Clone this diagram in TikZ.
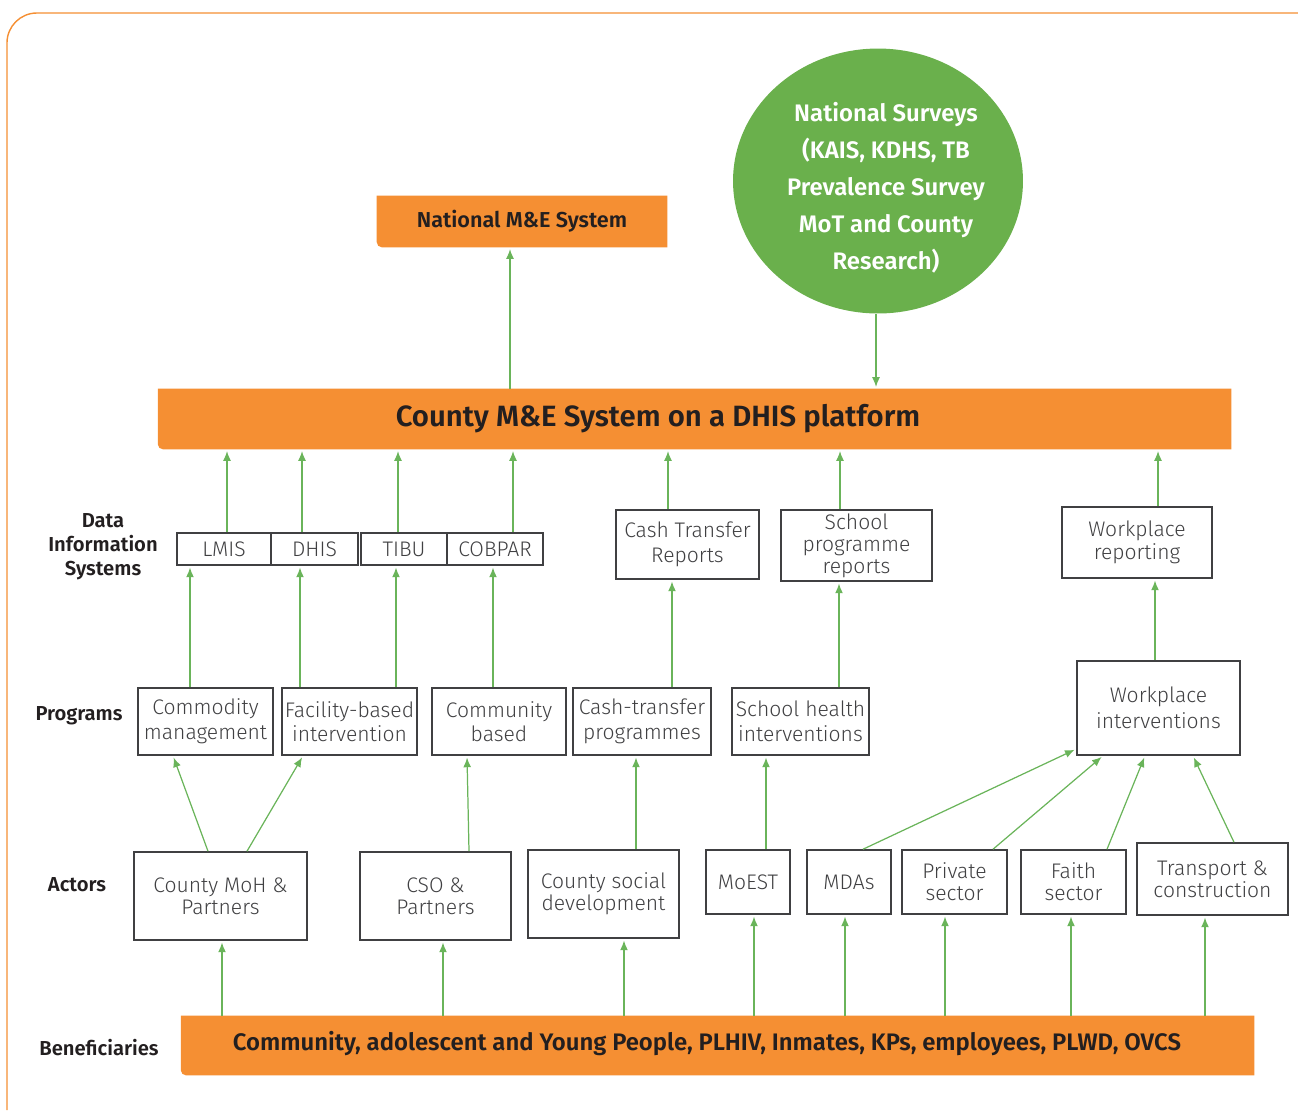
\documentclass[tikz,border=0pt]{standalone}
\usepackage{fontspec}
\setmainfont{Fira Sans}[UprightFont={* Light}, BoldFont={* SemiBold}]
\usetikzlibrary{arrows.meta,backgrounds,shapes.geometric}

\definecolor{barorange}{RGB}{245,143,51}
\definecolor{flowgreen}{RGB}{106,180,90}
\definecolor{surveygreen}{RGB}{106,176,76}
\definecolor{boxgray}{RGB}{64,64,66}
\definecolor{labeldark}{RGB}{35,31,32}

% orange bar behind a node, only the lower left corner rounded
\newcommand{\barback}[1]{%
  \fill[barorange] (#1.north west) -- (#1.north east) -- (#1.south east)
    -- ([xshift=3pt]#1.south west) arc[start angle=270, end angle=180, radius=3pt] -- cycle;}

\tikzset{
  box/.style={draw=boxgray, line width=0.9pt, fill=white, text=boxgray, align=center,
    inner sep=1pt, font=\fontsize{12}{14}\selectfont},
  tightbox/.style={box, font=\fontsize{12}{12.5}\selectfont},
  bar/.style={inner sep=0pt, text=labeldark},
  bartext/.style={text=labeldark, inner sep=0pt},
  rowlabel/.style={text=labeldark, align=center, font=\bfseries\fontsize{11.5}{13.6}\selectfont},
  survey/.style={ellipse, fill=surveygreen, inner sep=0pt},
  surveytext/.style={text=white, align=center, inner sep=0pt, font=\bfseries\fontsize{13.6}{21}\selectfont},
  flow/.style={draw=flowgreen, line width=0.7pt, shorten >=1pt, -{Latex[length=5.5pt,width=4.5pt]}},
}

\begin{document}
\begin{tikzpicture}[x=0.02cm, y=-0.02cm]
    \useasboundingbox (0,0) rectangle (1298,1110);
    \draw[barorange, line width=0.8pt, rounded corners=17pt] (7,1110) -- (7,13) -- (1298,13);

    % top
    \node[bar, minimum width=5.8cm, minimum height=1.02cm, font=\bfseries\fontsize{12.3}{14}\selectfont] (national) at (522,221.5) {National M\&E System};
    \node[survey, minimum width=5.8cm, minimum height=5.3cm] (survey) at (878,181) {};
    \node[surveytext] (surveylabel) at (886,188) {National Surveys\\(KAIS, KDHS, TB\\Prevalence Survey\\MoT and County\\Research)};
    \node[bar, minimum width=21.46cm, minimum height=1.2cm] (county) at (694.5,419) {};
    \node[bartext, font=\bfseries\fontsize{16.7}{19}\selectfont] (countytext) at (658,419) {County M\&E System on a DHIS platform};

    % row labels
    \node[rowlabel] (dislabel) at (103,547) {Data\\Information\\Systems};
    \node[rowlabel] (proglabel) at (79,716) {Programs};
    \node[rowlabel] (actlabel) at (77,885) {Actors};
    \node[rowlabel] (benlabel) at (99,1048) {Beneficiaries};

    % data information systems
    \node[box, minimum width=1.88cm, minimum height=0.64cm] (lmis) at (224,549) {LMIS};
    \node[box, minimum width=1.74cm, minimum height=0.64cm] (dhis) at (314.5,549) {DHIS};
    \node[box, minimum width=1.72cm, minimum height=0.64cm] (tibu) at (404,549) {TIBU};
    \node[box, minimum width=1.92cm, minimum height=0.64cm] (cobpar) at (495,549) {COBPAR};
    \node[box, minimum width=2.86cm, minimum height=1.38cm] (ctreports) at (687.5,544.5) {Cash Transfer\\Reports};
    \node[tightbox, minimum width=3.02cm, minimum height=1.42cm] (spreports) at (856.5,545.5) {School\\programme\\reports};
    \node[box, minimum width=3.0cm, minimum height=1.42cm, font=\fontsize{12}{13}\selectfont] (wpreports) at (1137,542.5) {Workplace\\reporting};

    % programs
    \node[box, minimum width=2.7cm, minimum height=1.34cm] (commodity) at (205.5,721.5) {Commodity\\management};
    \node[box, minimum width=2.7cm, minimum height=1.34cm] (facility) at (349.5,721.5) {Facility-based\\intervention};
    \node[box, minimum width=2.68cm, minimum height=1.34cm] (community) at (499,721.5) {Community\\based};
    \node[box, minimum width=2.76cm, minimum height=1.34cm] (cashprog) at (642,721.5) {Cash-transfer\\programmes};
    \node[box, minimum width=2.74cm, minimum height=1.34cm] (schoolhealth) at (800.5,721.5) {School health\\interventions};
    \node[box, minimum width=3.26cm, minimum height=1.88cm, font=\fontsize{12}{14.7}\selectfont] (wpint) at (1158.5,708) {Workplace\\interventions};

    % actors
    \node[tightbox, minimum width=3.46cm, minimum height=1.76cm] (moh) at (220.5,896) {County MoH \&\\Partners};
    \node[tightbox, minimum width=3.02cm, minimum height=1.76cm] (cso) at (435.5,896) {CSO \&\\Partners};
    \node[tightbox, minimum width=3.02cm, minimum height=1.76cm] (socdev) at (603.5,894) {County social\\development};
    \node[tightbox, minimum width=1.68cm, minimum height=1.28cm] (moest) at (748,882) {MoEST};
    \node[tightbox, minimum width=1.68cm, minimum height=1.28cm] (mdas) at (849,882) {MDAs};
    \node[tightbox, minimum width=2.1cm, minimum height=1.28cm] (private) at (954.5,882) {Private\\sector};
    \node[tightbox, minimum width=2.1cm, minimum height=1.28cm] (faith) at (1073.5,882) {Faith\\sector};
    \node[tightbox, minimum width=3.02cm, minimum height=1.44cm] (transport) at (1212.5,879) {Transport \&\\construction};

    % beneficiaries
    \node[bar, minimum width=21.46cm, minimum height=1.18cm] (benef) at (717.5,1045.5) {};
    \node[bartext, font=\bfseries\fontsize{13.6}{16}\selectfont] (beneftext) at (707,1044) {Community, adolescent and Young People, PLHIV, Inmates, KPs, employees, PLWD, OVCS};

    \begin{pgfonlayer}{background}
        \barback{national}
        \barback{county}
        \barback{benef}
    \end{pgfonlayer}

    % up to the national level
    \draw[flow] (county.north -| 510,0) -- (national.south -| 510,0);
    \draw[flow] (survey.south -| 876,0) -- (county.north -| 876,0);

    % data systems to county
    \draw[flow] (lmis.north -| 227,0) -- (county.south -| 227,0);
    \draw[flow] (dhis.north -| 302,0) -- (county.south -| 302,0);
    \draw[flow] (tibu.north -| 398,0) -- (county.south -| 398,0);
    \draw[flow] (cobpar.north -| 513,0) -- (county.south -| 513,0);
    \draw[flow] (ctreports.north -| 668,0) -- (county.south -| 668,0);
    \draw[flow] (spreports.north -| 840,0) -- (county.south -| 840,0);
    \draw[flow] (wpreports.north -| 1158,0) -- (county.south -| 1158,0);

    % programs to data systems
    \draw[flow] (commodity.north -| 190,0) -- (lmis.south -| 190,0);
    \draw[flow] (facility.north -| 300,0) -- (dhis.south -| 300,0);
    \draw[flow] (facility.north -| 396,0) -- (tibu.south -| 396,0);
    \draw[flow] (community.north -| 493,0) -- (cobpar.south -| 493,0);
    \draw[flow] (cashprog.north -| 672,0) -- (ctreports.south -| 672,0);
    \draw[flow] (schoolhealth.north -| 839,0) -- (spreports.south -| 839,0);
    \draw[flow] (wpint.north -| 1155,0) -- (wpreports.south -| 1155,0);

    % actors to programs
    \draw[flow] (moh.north -| 208,0) -- (commodity.south -| 173,0);
    \draw[flow] (moh.north -| 247,0) -- (facility.south -| 303,0);
    \draw[flow] (cso.north -| 469,0) -- (community.south -| 467,0);
    \draw[flow] (socdev.north -| 636,0) -- (cashprog.south -| 636,0);
    \draw[flow] (moest.north -| 766,0) -- (schoolhealth.south -| 766,0);
    \draw[flow] (mdas.north -| 863,0) -- (wpint.west |- 0,749);
    \draw[flow] (private.north -| 993,0) -- (wpint.south -| 1103,0);
    \draw[flow] (faith.north -| 1107,0) -- (wpint.south -| 1145,0);
    \draw[flow] (transport.north -| 1234,0) -- (wpint.south -| 1193,0);

    % beneficiaries to actors
    \foreach \n/\x in {moh/222, cso/443, socdev/624, moest/754, mdas/845, private/945, faith/1071, transport/1205}
        \draw[flow] (benef.north -| \x,0) -- (\n.south -| \x,0);
\end{tikzpicture}
\end{document}
